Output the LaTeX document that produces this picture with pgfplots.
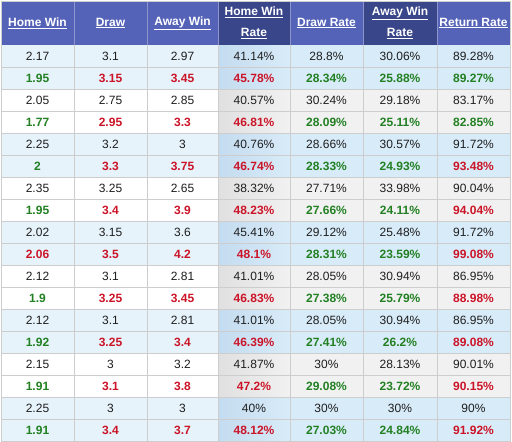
\documentclass[border=0pt]{standalone}
\usepackage{pgfplots}
\pgfplotsset{compat=1.18}
\usepackage{fontspec}
\setmainfont{Liberation Sans}
\definecolor{hdr}{RGB}{84,99,184}
\definecolor{hdrd}{RGB}{58,70,138}
\definecolor{hsep}{RGB}{140,150,205}
\definecolor{bl}{RGB}{230,243,251}
\definecolor{bl2}{RGB}{216,235,248}
\definecolor{bl3}{RGB}{196,220,240}
\definecolor{gr2}{RGB}{241,241,241}
\definecolor{gr3}{RGB}{224,224,224}
\definecolor{gridc}{RGB}{205,205,205}
\definecolor{tg}{RGB}{34,128,34}
\definecolor{tr}{RGB}{204,20,40}
\definecolor{tk}{RGB}{30,30,30}
\DeclareRobustCommand\G[1]{\textcolor{tg}{\bfseries #1}}
\DeclareRobustCommand\R[1]{\textcolor{tr}{\bfseries #1}}
\pgfplotsset{cell/.style={draw=none, mark=none, nodes near coords,
    point meta=explicit symbolic,
    every node near coord/.append style={anchor=center, text=tk,
      font=\fontsize{12}{14}\selectfont, inner sep=0pt}}}
\begin{document}
\begin{tikzpicture}
\begin{axis}[
  width=512pt, height=442pt, scale only axis,
  xmin=0, xmax=512, ymin=0, ymax=442, y dir=reverse,
  axis lines=none, clip=false,
]
\path (axis cs:0,0) rectangle (axis cs:512,442);
% body backgrounds
\fill[white] (axis cs:1,45) rectangle (axis cs:510,441);
\fill[gr2] (axis cs:218,45) rectangle (axis cs:510,441);
\pgfplotsinvokeforeach{0,1,2,3,4}{
  \fill[bl] (axis cs:1,{45+88*#1}) rectangle (axis cs:218,{89+88*#1});
  \fill[bl2] (axis cs:218,{45+88*#1}) rectangle (axis cs:510,{89+88*#1});
  \shade[left color=bl3, right color=bl2] (axis cs:218,{45+88*#1}) rectangle (axis cs:290,{89+88*#1});
}
\pgfplotsinvokeforeach{0,1,2,3}{
  \shade[left color=gr3, right color=gr2] (axis cs:218,{89+88*#1}) rectangle (axis cs:290,{133+88*#1});
}
% grid
\pgfplotsinvokeforeach{1,...,17}{
  \draw[gridc, line width=0.9pt] (axis cs:1,{45+22*#1}) -- (axis cs:510,{45+22*#1});
}
\pgfplotsinvokeforeach{74,147,218,290,363,437}{
  \draw[gridc, line width=0.9pt] (axis cs:#1,45) -- (axis cs:#1,441);
}
% header
\fill[hdr] (axis cs:1,1) rectangle (axis cs:510,45);
\fill[hdrd] (axis cs:218,1) rectangle (axis cs:290,45);
\fill[hdrd] (axis cs:363,1) rectangle (axis cs:437,45);
\pgfplotsinvokeforeach{74,147,218,290,363,437}{
  \draw[hsep, line width=0.9pt] (axis cs:#1,1) -- (axis cs:#1,45);
}
\draw[gridc, line width=0.9pt] (axis cs:1,1) rectangle (axis cs:510,441);
\begin{scope}[every node/.style={text=white, font=\fontsize{12}{21}\selectfont\bfseries, align=center}]
\node at (axis cs:37.5,23) {\underline{Home Win}};
\node at (axis cs:110.5,23) {\underline{Draw}};
\node at (axis cs:182.5,23) {\underline{Away Win}};
\node at (axis cs:254,23) {\underline{Home Win}\\\underline{Rate}};
\node at (axis cs:326.5,23) {\underline{Draw Rate}};
\node at (axis cs:400,23) {\underline{Away Win}\\\underline{Rate}};
\node at (axis cs:473.5,23) {\underline{Return Rate}};
\end{scope}
% data columns
\addplot[cell] coordinates {
(37.5,56) [2.17] (37.5,78) [\G{1.95}] (37.5,100) [2.05] (37.5,122) [\G{1.77}]
(37.5,144) [2.25] (37.5,166) [\G{2}] (37.5,188) [2.35] (37.5,210) [\G{1.95}]
(37.5,232) [2.02] (37.5,254) [\R{2.06}] (37.5,276) [2.12] (37.5,298) [\G{1.9}]
(37.5,320) [2.12] (37.5,342) [\G{1.92}] (37.5,364) [2.15] (37.5,386) [\G{1.91}]
(37.5,408) [2.25] (37.5,430) [\G{1.91}]
};
\addplot[cell] coordinates {
(110.5,56) [3.1] (110.5,78) [\R{3.15}] (110.5,100) [2.75] (110.5,122) [\R{2.95}]
(110.5,144) [3.2] (110.5,166) [\R{3.3}] (110.5,188) [3.25] (110.5,210) [\R{3.4}]
(110.5,232) [3.15] (110.5,254) [\R{3.5}] (110.5,276) [3.1] (110.5,298) [\R{3.25}]
(110.5,320) [3.1] (110.5,342) [\R{3.25}] (110.5,364) [3] (110.5,386) [\R{3.1}]
(110.5,408) [3] (110.5,430) [\R{3.4}]
};
\addplot[cell] coordinates {
(182.5,56) [2.97] (182.5,78) [\R{3.45}] (182.5,100) [2.85] (182.5,122) [\R{3.3}]
(182.5,144) [3] (182.5,166) [\R{3.75}] (182.5,188) [2.65] (182.5,210) [\R{3.9}]
(182.5,232) [3.6] (182.5,254) [\R{4.2}] (182.5,276) [2.81] (182.5,298) [\R{3.45}]
(182.5,320) [2.81] (182.5,342) [\R{3.4}] (182.5,364) [3.2] (182.5,386) [\R{3.8}]
(182.5,408) [3] (182.5,430) [\R{3.7}]
};
\addplot[cell] coordinates {
(254,56) [41.14\%] (254,78) [\R{45.78\%}] (254,100) [40.57\%] (254,122) [\R{46.81\%}]
(254,144) [40.76\%] (254,166) [\R{46.74\%}] (254,188) [38.32\%] (254,210) [\R{48.23\%}]
(254,232) [45.41\%] (254,254) [\R{48.1\%}] (254,276) [41.01\%] (254,298) [\R{46.83\%}]
(254,320) [41.01\%] (254,342) [\R{46.39\%}] (254,364) [41.87\%] (254,386) [\R{47.2\%}]
(254,408) [40\%] (254,430) [\R{48.12\%}]
};
\addplot[cell] coordinates {
(326.5,56) [28.8\%] (326.5,78) [\G{28.34\%}] (326.5,100) [30.24\%] (326.5,122) [\G{28.09\%}]
(326.5,144) [28.66\%] (326.5,166) [\G{28.33\%}] (326.5,188) [27.71\%] (326.5,210) [\G{27.66\%}]
(326.5,232) [29.12\%] (326.5,254) [\G{28.31\%}] (326.5,276) [28.05\%] (326.5,298) [\G{27.38\%}]
(326.5,320) [28.05\%] (326.5,342) [\G{27.41\%}] (326.5,364) [30\%] (326.5,386) [\G{29.08\%}]
(326.5,408) [30\%] (326.5,430) [\G{27.03\%}]
};
\addplot[cell] coordinates {
(400,56) [30.06\%] (400,78) [\G{25.88\%}] (400,100) [29.18\%] (400,122) [\G{25.11\%}]
(400,144) [30.57\%] (400,166) [\G{24.93\%}] (400,188) [33.98\%] (400,210) [\G{24.11\%}]
(400,232) [25.48\%] (400,254) [\G{23.59\%}] (400,276) [30.94\%] (400,298) [\G{25.79\%}]
(400,320) [30.94\%] (400,342) [\G{26.2\%}] (400,364) [28.13\%] (400,386) [\G{23.72\%}]
(400,408) [30\%] (400,430) [\G{24.84\%}]
};
\addplot[cell] coordinates {
(473.5,56) [89.28\%] (473.5,78) [\G{89.27\%}] (473.5,100) [83.17\%] (473.5,122) [\G{82.85\%}]
(473.5,144) [91.72\%] (473.5,166) [\R{93.48\%}] (473.5,188) [90.04\%] (473.5,210) [\R{94.04\%}]
(473.5,232) [91.72\%] (473.5,254) [\R{99.08\%}] (473.5,276) [86.95\%] (473.5,298) [\R{88.98\%}]
(473.5,320) [86.95\%] (473.5,342) [\R{89.08\%}] (473.5,364) [90.01\%] (473.5,386) [\R{90.15\%}]
(473.5,408) [90\%] (473.5,430) [\R{91.92\%}]
};
\end{axis}
\end{tikzpicture}
\end{document}
